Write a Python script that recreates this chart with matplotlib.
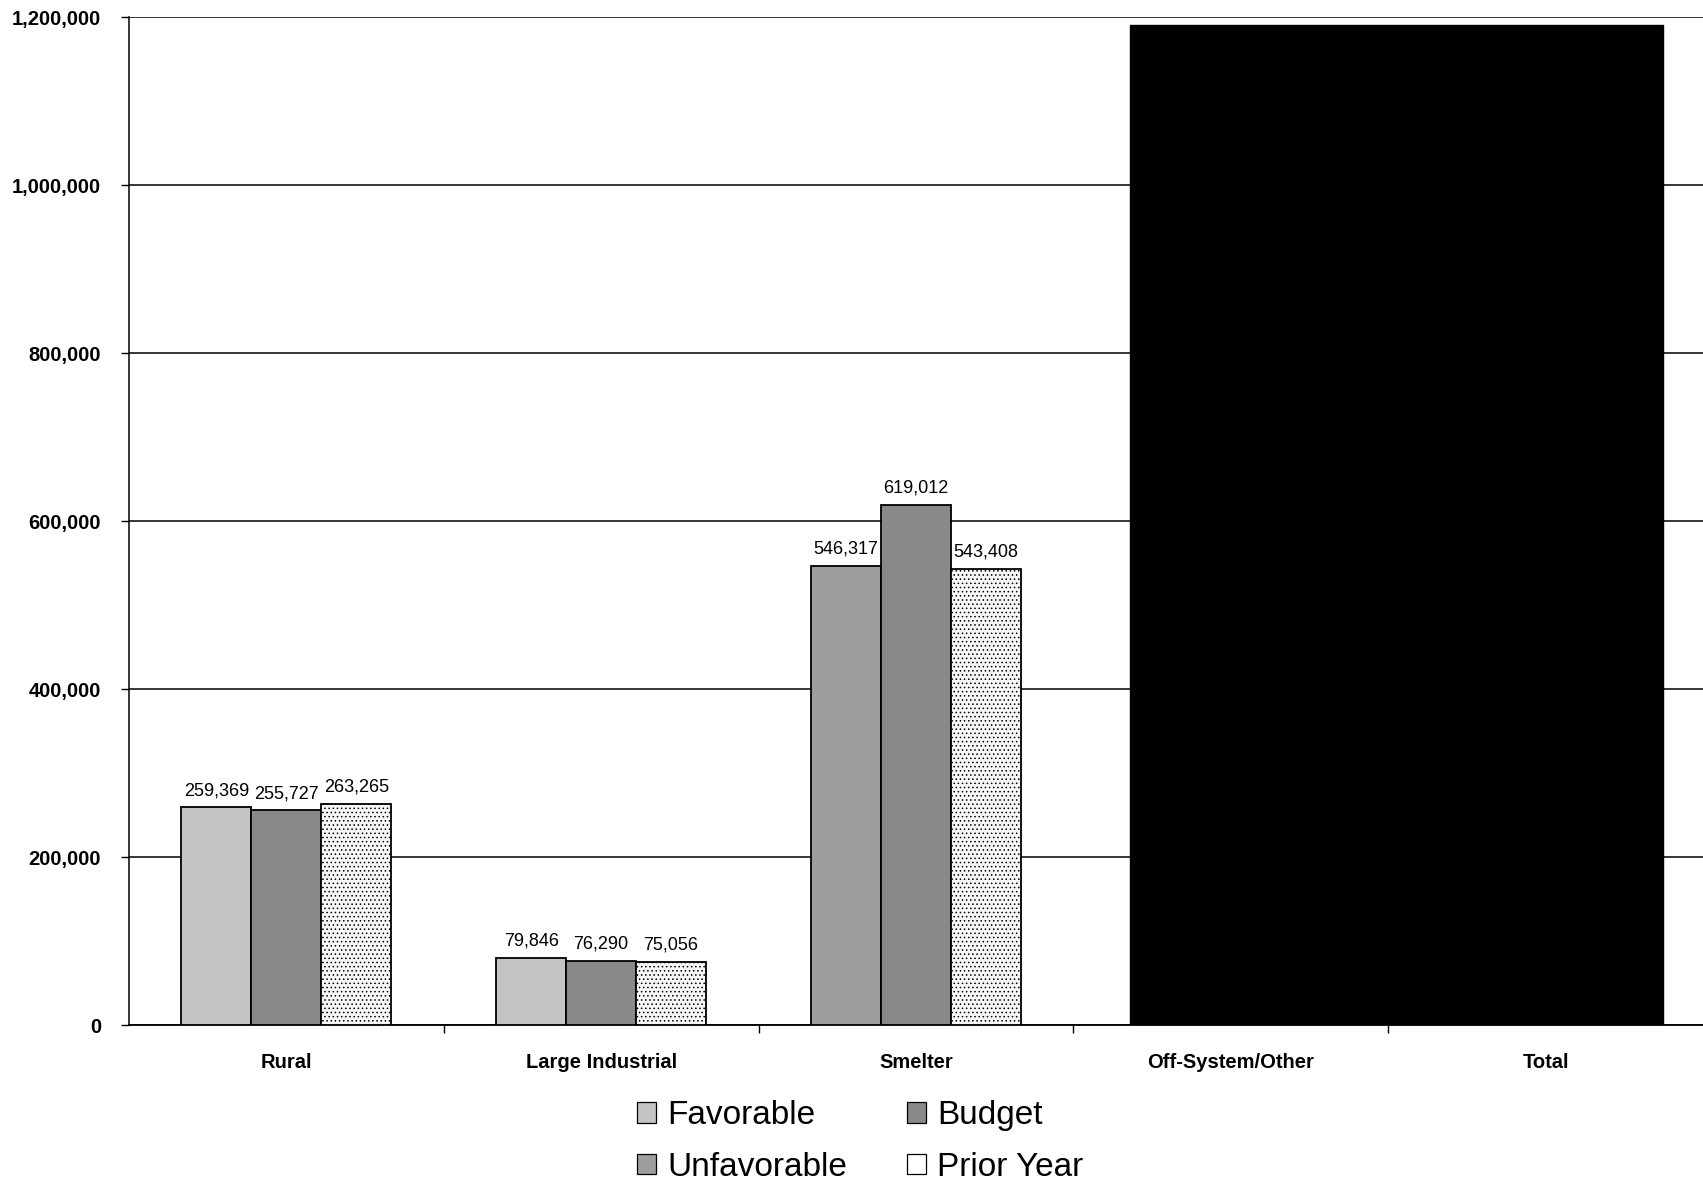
import numpy as np
import matplotlib
matplotlib.use("Agg")
import matplotlib.pyplot as plt
from matplotlib.patches import Patch
from matplotlib.ticker import FuncFormatter, FixedLocator

plt.rcParams["font.family"] = ["Liberation Sans", "DejaVu Sans"]

# Sales by customer class (MWh); Off-System/Other and Total are withheld
categories = ["Rural", "Large Industrial", "Smelter", "Off-System/Other", "Total"]
actual = [259369, 79846, 546317, np.nan, np.nan]
budget = [255727, 76290, 619012, np.nan, np.nan]
prior_year = [263265, 75056, 543408, np.nan, np.nan]
y_ticks = [0, 200000, 400000, 600000, 800000, 1000000, 1200000]

c_fav = "#c4c4c4"
c_unfav = "#9e9e9e"
c_budget = "#898989"
c_prior = "#f7f7f7"

fig = plt.figure(figsize=(17.03, 11.84), dpi=100)
ax = fig.add_axes([0.0757, 0.134, 0.9243, 0.8516])

x = np.arange(len(categories))
w = 0.222

actual_colors = [c_fav if a >= b else c_unfav for a, b in zip(actual, budget)]
series = [
    (x - w, actual, actual_colors, None),
    (x, budget, [c_budget] * len(x), None),
    (x + w, prior_year, [c_prior] * len(x), "...."),
]
plt.rcParams["hatch.color"] = "#c4c4c4"
plt.rcParams["hatch.linewidth"] = 0.6
for xs, vals, cols, hatch in series:
    bars = ax.bar(xs, vals, width=w, color=cols, edgecolor="black",
                  linewidth=1.3, hatch=hatch, zorder=3)
    for rect, v in zip(bars, vals):
        if np.isnan(v):
            continue
        ax.annotate(f"{int(v):,}", (rect.get_x() + rect.get_width() / 2, v),
                    xytext=(0, 6), textcoords="offset points",
                    ha="center", va="bottom", fontsize=13, zorder=4)

# withheld region over the last two categories
ax.axvspan(2.68, 4.373, ymin=0, ymax=1190000 / 1200000, color="black", zorder=5)

ax.set_xlim(-0.5, 4.5)
ax.set_ylim(0, 1200000)
ax.yaxis.set_major_locator(FixedLocator(y_ticks))
ax.yaxis.set_major_formatter(FuncFormatter(lambda v, p: f"{int(v):,}"))
ax.grid(axis="y", color="black", linewidth=1.1, zorder=1)
ax.set_axisbelow(True)

ax.set_xticks(x)
ax.set_xticklabels(categories, fontweight="bold", fontsize=14.5)
ax.set_xticks(np.arange(0.5, len(categories) - 0.5), minor=True)
ax.tick_params(axis="x", which="major", length=0, pad=20)
ax.tick_params(axis="x", which="minor", length=6, width=1, direction="out")
ax.tick_params(axis="y", length=6, width=1, direction="out", pad=14,
               labelsize=14.5)
for lab in ax.get_yticklabels():
    lab.set_fontweight("bold")

for s in ("top", "right"):
    ax.spines[s].set_visible(False)
ax.spines["left"].set_linewidth(1.1)
ax.spines["bottom"].set_linewidth(1.3)

handles = [
    Patch(facecolor=c_fav, edgecolor="black", linewidth=0.9, label="Favorable"),
    Patch(facecolor=c_unfav, edgecolor="black", linewidth=0.9, label="Unfavorable"),
    Patch(facecolor=c_budget, edgecolor="black", linewidth=0.9, label="Budget"),
    Patch(facecolor="white", edgecolor="black", linewidth=0.9, label="Prior Year"),
]
fig.legend(handles=handles, ncol=2, loc="center", bbox_to_anchor=(0.505, 0.036),
           frameon=False, fontsize=24, handlelength=0.58, handleheight=0.58,
           handletextpad=0.33, columnspacing=1.8, labelspacing=0.62,
           borderpad=0.2)

fig.savefig("out.png", dpi=100)
